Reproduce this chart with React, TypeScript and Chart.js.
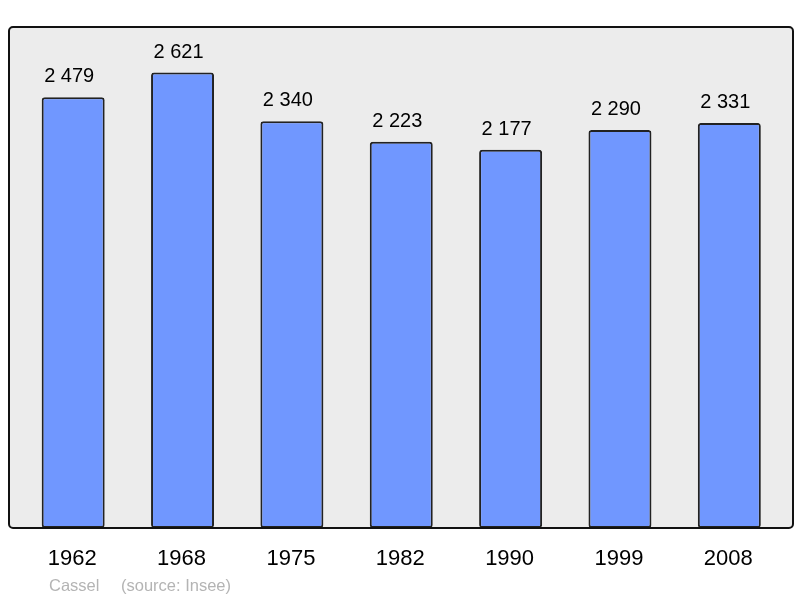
import React, { useEffect, useRef } from "react";
import { Chart, registerables } from "chart.js";

Chart.register(...registerables);

const years = ["1962", "1968", "1975", "1982", "1990", "1999", "2008"];
const population = [2479, 2621, 2340, 2223, 2177, 2290, 2331];
const valueLabels = ["2 479", "2 621", "2 340", "2 223", "2 177", "2 290", "2 331"];
const footerName = "Cassel";
const footerSource = "(source: Insee)";

const FONT = "'Liberation Sans', Arial, sans-serif";

const framePlugin = {
  id: "frame",
  beforeDraw(chart: any) {
    const { ctx, chartArea } = chart;
    const l = chartArea.left - 9.5, r = chartArea.right + 9, t = chartArea.top, b = chartArea.bottom;
    ctx.save();
    ctx.beginPath();
    ctx.roundRect(l, t, r - l, b - t, 4);
    ctx.fillStyle = "#ececec";
    ctx.fill();
    ctx.restore();
  },
  afterDatasetsDraw(chart: any) {
    const { ctx, chartArea, scales } = chart;
    const l = chartArea.left - 9.5, r = chartArea.right + 9, t = chartArea.top, b = chartArea.bottom;
    ctx.save();
    ctx.beginPath();
    ctx.roundRect(l, t, r - l, b - t, 4);
    ctx.lineWidth = 2;
    ctx.strokeStyle = "#111";
    ctx.stroke();

    const xs = scales.x, ys = scales.y;
    ctx.fillStyle = "#000";
    ctx.textAlign = "center";
    ctx.textBaseline = "alphabetic";
    ctx.font = `20px ${FONT}`;
    population.forEach((v, i) => {
      ctx.fillText(valueLabels[i], xs.getPixelForValue(i) - 4, ys.getPixelForValue(v) - 15);
    });
    ctx.font = `22px ${FONT}`;
    years.forEach((y, i) => {
      ctx.fillText(y, xs.getPixelForValue(i) - 1, b + 37);
    });
    ctx.textAlign = "left";
    ctx.font = `16.5px ${FONT}`;
    ctx.fillStyle = "#b4b4b4";
    ctx.fillText(footerName, 49, b + 63);
    ctx.fillText(footerSource, 121, b + 63);
    ctx.restore();
  },
};

export default function App() {
  const ref = useRef<HTMLCanvasElement>(null);
  useEffect(() => {
    if (!ref.current) return;
    const chart = new Chart(ref.current, {
      type: "bar",
      data: {
        labels: years,
        datasets: [
          {
            data: population,
            backgroundColor: "#7097ff",
            borderColor: "#222",
            borderWidth: 2,
            borderRadius: 3,
            borderSkipped: false,
            barPercentage: 0.576,
            categoryPercentage: 1,
          },
        ],
      },
      options: {
        responsive: false,
        animation: false,
        layout: { padding: { left: 18.5, right: 16, top: 27, bottom: 70 } },
        plugins: { legend: { display: false }, tooltip: { enabled: false } },
        scales: {
          x: { display: false, offset: true },
          y: { display: false, min: 0, max: 2883 },
        },
      },
      plugins: [framePlugin],
    });
    return () => chart.destroy();
  }, []);
  return (
    <div style={{ position: "fixed", left: 0, top: 0, width: 800, height: 598, background: "#fff" }}>
      <canvas ref={ref} width={800} height={598} />
    </div>
  );
}
